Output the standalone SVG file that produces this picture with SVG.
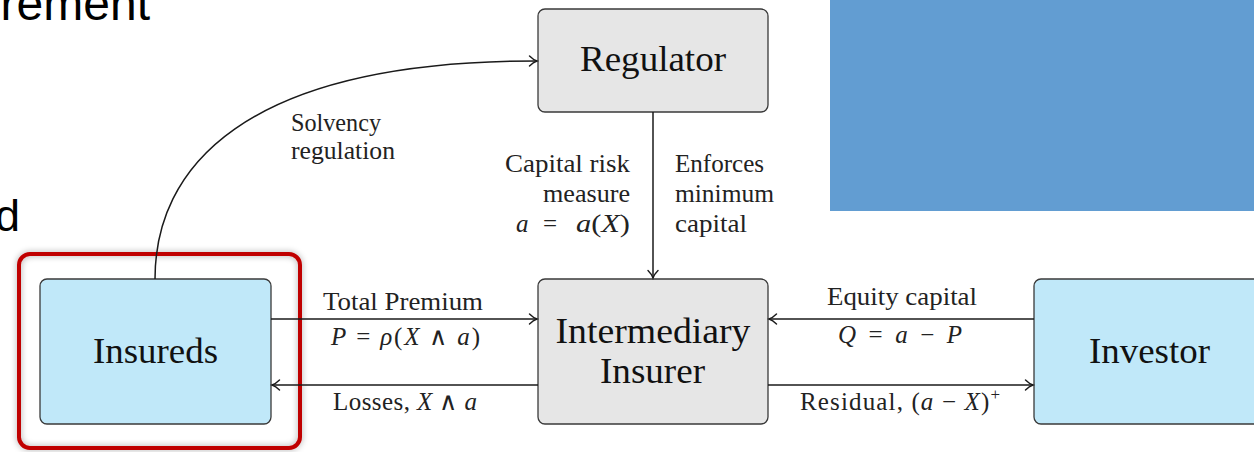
<svg xmlns="http://www.w3.org/2000/svg" width="1254" height="452" viewBox="0 0 1254 452">
<style>
  .box { stroke: #3a3a3a; stroke-width: 1.3; }
  .gray { fill: #e6e6e6; }
  .blue { fill: #c0e8f9; }
  .node { font-family: "Liberation Serif", "Times New Roman", serif; font-size: 35px; fill: #111; text-anchor: middle; }
  .lbl { font-family: "Liberation Serif", "Times New Roman", serif; font-size: 25px; fill: #222; }
  .mid { text-anchor: middle; }
  .end { text-anchor: end; }
  .it { font-style: italic; }
  .conn { fill: none; stroke: #1a1a1a; stroke-width: 1.5; }
  .slide { font-family: "Liberation Sans", Arial, sans-serif; fill: #000; }
</style>
<defs>
  <marker id="arr" markerUnits="userSpaceOnUse" viewBox="-9 -7 11 14" markerWidth="11" markerHeight="14" refX="0" refY="0" orient="auto">
    <path d="M -7.5,-5 C -4.5,-2 -1.5,-0.5 0,0 C -1.5,0.5 -4.5,2 -7.5,5" fill="none" stroke="#1a1a1a" stroke-width="1.4" stroke-linecap="round"/>
  </marker>
  <filter id="shadow" x="-10%" y="-10%" width="120%" height="120%">
    <feDropShadow dx="0" dy="0" stdDeviation="3" flood-color="#000" flood-opacity="0.35"/>
  </filter>
</defs>
<rect width="1254" height="452" fill="#ffffff"/>

<!-- slide fragments (clipped at the edges, as in the picture) -->
<text class="slide" x="150" y="20" text-anchor="end" font-size="48">rement</text>
<text class="slide" x="20" y="231" text-anchor="end" font-size="45">d</text>
<rect x="830" y="0" width="424" height="211" fill="#629dd2"/>

<!-- highlight frame -->
<g id="highlight">
  <rect x="19" y="254" width="281" height="194" rx="11" ry="11" fill="none" stroke="#c00000" stroke-width="4" filter="url(#shadow)"/>
</g>

<g id="regulator">
  <rect class="box gray" x="538" y="9" width="230" height="103" rx="7" ry="7"/>
  <text class="node" x="653" y="71" textLength="146" lengthAdjust="spacingAndGlyphs">Regulator</text>
</g>

<g id="insureds">
  <rect class="box blue" x="40" y="279" width="231" height="145" rx="7" ry="7"/>
  <text class="node" x="155.5" y="363" textLength="125" lengthAdjust="spacingAndGlyphs">Insureds</text>
</g>

<g id="intermediary">
  <rect class="box gray" x="538" y="279" width="230" height="145" rx="7" ry="7"/>
  <text class="node" x="653" y="343" textLength="195" lengthAdjust="spacingAndGlyphs">Intermediary</text>
  <text class="node" x="652.5" y="383" textLength="105" lengthAdjust="spacingAndGlyphs">Insurer</text>
</g>

<g id="investor">
  <rect class="box blue" x="1034" y="279" width="240" height="145" rx="7" ry="7"/>
  <text class="node" x="1149.5" y="363" textLength="121" lengthAdjust="spacingAndGlyphs">Investor</text>
</g>

<g id="connectors">
  <path class="conn" d="M155,279 C155,170 240,61 537,61" marker-end="url(#arr)"/>
  <path class="conn" d="M653,112 L653,278" marker-end="url(#arr)"/>
  <path class="conn" d="M271,319 L537,319" marker-end="url(#arr)"/>
  <path class="conn" d="M538,385 L272,385" marker-end="url(#arr)"/>
  <path class="conn" d="M1034,319 L769,319" marker-end="url(#arr)"/>
  <path class="conn" d="M768,385 L1033,385" marker-end="url(#arr)"/>
</g>

<g id="labels">
  <text class="lbl" x="291" y="131" textLength="90" lengthAdjust="spacingAndGlyphs">Solvency</text>
  <text class="lbl" x="291" y="159" textLength="104" lengthAdjust="spacingAndGlyphs">regulation</text>

  <text class="lbl end" x="630" y="172" textLength="125" lengthAdjust="spacingAndGlyphs">Capital risk</text>
  <text class="lbl end" x="630" y="202" textLength="87" lengthAdjust="spacingAndGlyphs">measure</text>
  <text class="lbl" y="232"><tspan class="it" x="516">a</tspan><tspan x="543">=</tspan></text>
  <text class="lbl" x="576" y="232" textLength="54" lengthAdjust="spacingAndGlyphs"><tspan class="it">a</tspan>(<tspan class="it">X</tspan>)</text>

  <text class="lbl" x="675" y="172" textLength="89" lengthAdjust="spacingAndGlyphs">Enforces</text>
  <text class="lbl" x="675" y="202" textLength="99" lengthAdjust="spacingAndGlyphs">minimum</text>
  <text class="lbl" x="675" y="232" textLength="72" lengthAdjust="spacingAndGlyphs">capital</text>

  <text class="lbl mid" x="403" y="310" textLength="160" lengthAdjust="spacingAndGlyphs">Total Premium</text>
  <text class="lbl mid" x="405.5" y="345" textLength="149" lengthAdjust="spacing"><tspan class="it">P</tspan> = <tspan class="it">ρ</tspan>(<tspan class="it">X</tspan> ∧ <tspan class="it">a</tspan>)</text>
  <text class="lbl mid" x="405" y="410" textLength="144" lengthAdjust="spacing">Losses, <tspan class="it">X</tspan> ∧ <tspan class="it">a</tspan></text>

  <text class="lbl mid" x="902" y="305" textLength="150" lengthAdjust="spacingAndGlyphs">Equity capital</text>
  <text class="lbl mid" x="900" y="343" textLength="124" lengthAdjust="spacing"><tspan class="it">Q</tspan> = <tspan class="it">a</tspan> − <tspan class="it">P</tspan></text>
  <text class="lbl mid" x="900" y="410" textLength="200" lengthAdjust="spacing">Residual, (<tspan class="it">a</tspan> − <tspan class="it">X</tspan>)<tspan font-size="17" dy="-10">+</tspan></text>
</g>
</svg>
